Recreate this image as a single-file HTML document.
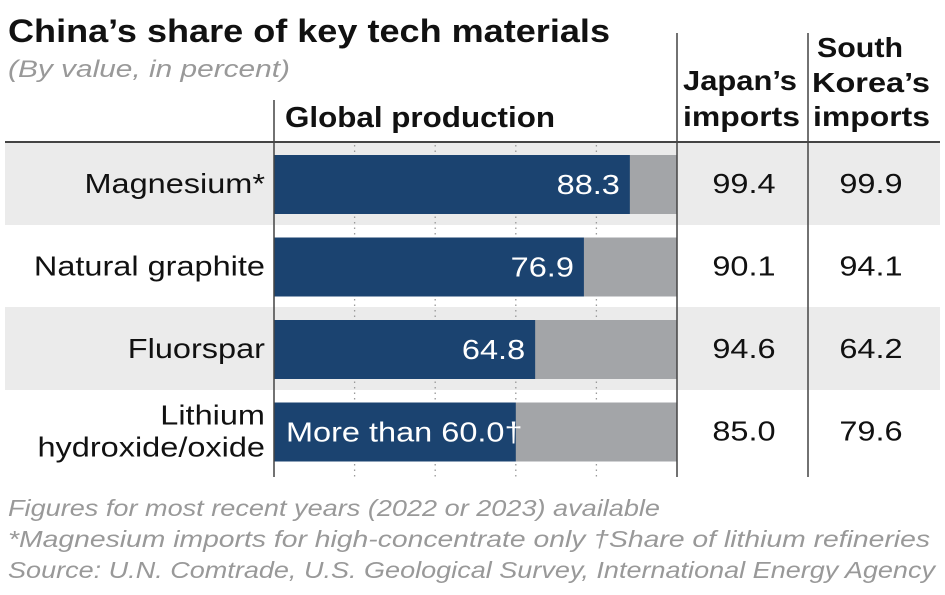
<!DOCTYPE html>
<html><head><meta charset="utf-8"><style>
body{margin:0;background:#fff;font-family:"Liberation Sans",sans-serif;}
svg text{font-family:"Liberation Sans",sans-serif;}
</style></head><body>
<svg width="945" height="590" viewBox="0 0 945 590">
<text x="8" y="42" font-size="32" font-weight="bold" fill="#111" textLength="602" lengthAdjust="spacingAndGlyphs">China’s share of key tech materials</text>
<text x="8" y="77" font-size="24" font-style="italic" fill="#999" textLength="282" lengthAdjust="spacingAndGlyphs">(By value, in percent)</text>
<text x="285" y="127" font-size="29" font-weight="bold" fill="#111" textLength="270" lengthAdjust="spacingAndGlyphs">Global production</text>
<text x="683" y="90" font-size="28" font-weight="bold" fill="#111" textLength="114" lengthAdjust="spacingAndGlyphs">Japan’s</text>
<text x="683" y="126" font-size="28" font-weight="bold" fill="#111" textLength="117" lengthAdjust="spacingAndGlyphs">imports</text>
<text x="817" y="57" font-size="28" font-weight="bold" fill="#111" textLength="86" lengthAdjust="spacingAndGlyphs">South</text>
<text x="812" y="92" font-size="28" font-weight="bold" fill="#111" textLength="118" lengthAdjust="spacingAndGlyphs">Korea’s</text>
<text x="813" y="126" font-size="28" font-weight="bold" fill="#111" textLength="117" lengthAdjust="spacingAndGlyphs">imports</text>
<g id="rows"></g>
<line x1="5" y1="142" x2="940" y2="142" stroke="#444" stroke-width="2"/>
<line x1="274" y1="100" x2="274" y2="477" stroke="#444" stroke-width="1.5"/>
<line x1="677" y1="33" x2="677" y2="477" stroke="#444" stroke-width="1.5"/>
<line x1="808" y1="33" x2="808" y2="477" stroke="#444" stroke-width="1.5"/>
<text x="8" y="516" font-size="23" font-style="italic" fill="#999" textLength="652" lengthAdjust="spacingAndGlyphs">Figures for most recent years (2022 or 2023) available</text>
<text x="8" y="547" font-size="23" font-style="italic" fill="#999" textLength="922" lengthAdjust="spacingAndGlyphs">*Magnesium imports for high-concentrate only  †Share of lithium refineries</text>
<text x="8" y="578" font-size="23" font-style="italic" fill="#999" textLength="927" lengthAdjust="spacingAndGlyphs">Source: U.N. Comtrade, U.S. Geological Survey, International Energy Agency</text>
</svg>
<script>
const categories=[["Magnesium*"],["Natural graphite"],["Fluorspar"],["Lithium","hydroxide/oxide"]];
const production=[88.3,76.9,64.8,60.0];
const prodLabels=["88.3","76.9","64.8","More than 60.0†"];
const japan=["99.4","90.1","94.6","85.0"];
const korea=["99.9","94.1","64.2","79.6"];
const ticks=[20,40,60,80];
const NS="http://www.w3.org/2000/svg";
const g=document.getElementById("rows");
const x0=274,x1=677;
const xs=v=>x0+(x1-x0)*v/100;
const W=27*1.16;
function mk(t,a,p){const e=document.createElementNS(NS,t);for(const k in a)e.setAttribute(k,a[k]);(p||g).appendChild(e);return e;}
categories.forEach((c,i)=>{
  const top=142+i*82.5;
  if(i%2===0){const r=mk("rect",{x:5,y:top,width:935,height:83,fill:"#ebebeb"});
    
    }
});
ticks.forEach(t=>{const l=mk("line",{x1:xs(t),y1:145,x2:xs(t),y2:477,stroke:"#999","stroke-width":1.3,"stroke-dasharray":"1.5,4"});
  
  });
function wide(t){const w=t.getComputedTextLength();t.setAttribute("textLength",w*1.16);t.setAttribute("lengthAdjust","spacingAndGlyphs");}
categories.forEach((c,i)=>{
  const top=142+i*82.5, by=top+13, cy=top+41;
  const bg=mk("rect",{x:x0,y:by,width:x1-x0,height:59,fill:"#a3a5a8"});
  
  
  const b=mk("rect",{x:x0,y:by,width:xs(production[i])-x0,height:59,fill:"#1b4370"});
  
  
  const last=i===3;
  const tv=mk("text",{x:last?x0+12:xs(production[i])-10,y:cy+11,"font-size":28,fill:"#fff","text-anchor":last?"start":"end"});
  tv.textContent=prodLabels[i];
  wide(tv);
  
  
  c.forEach((ln,j)=>{const t=mk("text",{x:265,y:(c.length===1?cy+10:cy-6+j*32),"font-size":28,fill:"#111","text-anchor":"end"});
    t.textContent=ln;
    wide(t);
    
    });
  const tj=mk("text",{x:744,y:cy+10,"font-size":28,fill:"#111","text-anchor":"middle"});tj.textContent=japan[i];
  wide(tj);
  
  
  const tk=mk("text",{x:871,y:cy+10,"font-size":28,fill:"#111","text-anchor":"middle"});tk.textContent=korea[i];
  wide(tk);
  
  
});
</script>
</body></html>
